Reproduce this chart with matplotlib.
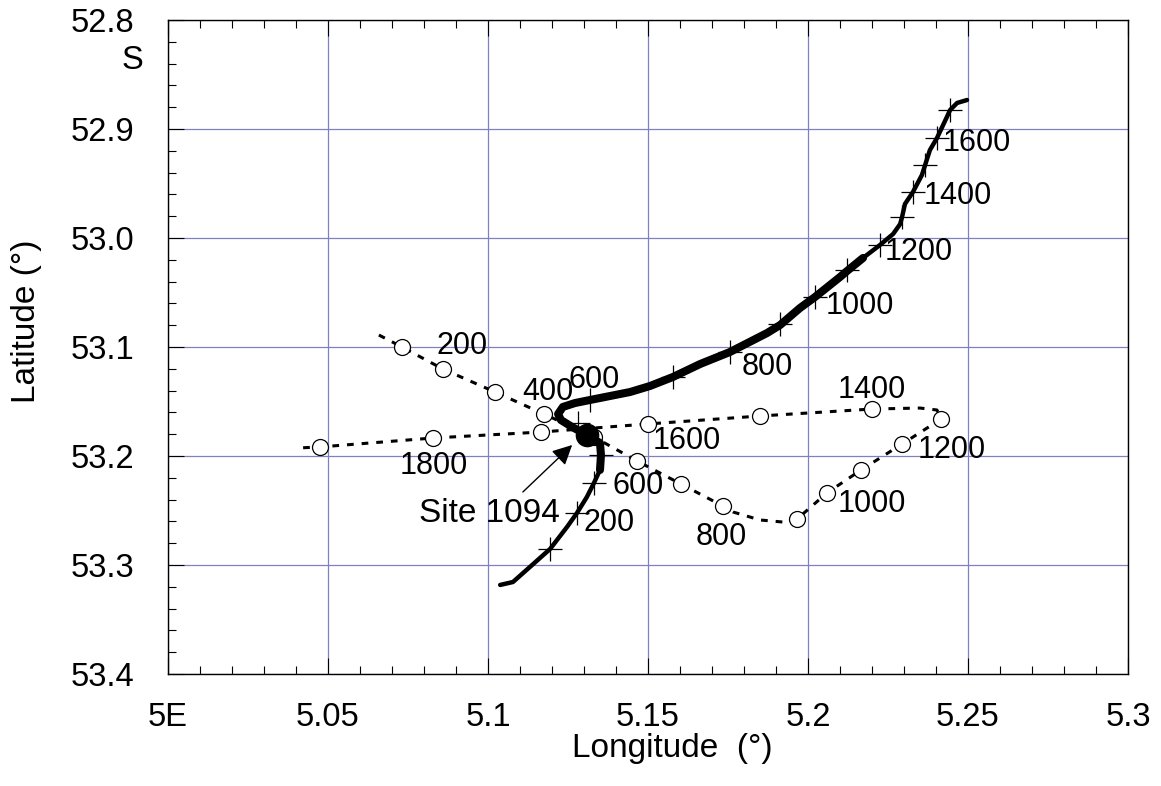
import matplotlib
matplotlib.use('Agg')
import matplotlib.pyplot as plt
from matplotlib.ticker import MultipleLocator, FixedLocator, FixedFormatter

plt.rcParams['font.family'] = ['Liberation Sans', 'DejaVu Sans']

# Ship track (solid line), lon / lat in degrees
ship_lon = [5.1038, 5.1078, 5.1131, 5.1194, 5.1247, 5.1278, 5.1309, 5.1331,
            5.1350, 5.1353, 5.1350, 5.1309, 5.1263, 5.1228, 5.1219, 5.1234,
            5.1272, 5.1319, 5.1444, 5.1506, 5.1578, 5.1663, 5.1756, 5.1872,
            5.1913, 5.1975, 5.2022, 5.2100, 5.2122, 5.2172, 5.2225, 5.2266,
            5.2288, 5.2294, 5.2303, 5.2328, 5.2356, 5.2366, 5.2381, 5.2403,
            5.2434, 5.2444, 5.2466, 5.2497]
ship_lat = [53.3183, 53.3156, 53.3018, 53.2853, 53.2651, 53.2523, 53.2376, 53.2248,
            53.2128, 53.1991, 53.1881, 53.1807, 53.1734, 53.1670, 53.1615, 53.1550,
            53.1514, 53.1486, 53.1413, 53.1358, 53.1275, 53.1156, 53.1046, 53.0872,
            53.0798, 53.0642, 53.0541, 53.0358, 53.0303, 53.0183, 53.0064, 52.9963,
            52.9872, 52.9807, 52.9688, 52.9578, 52.9422, 52.9330, 52.9193, 52.9083,
            52.8890, 52.8826, 52.8761, 52.8734]
# part of the ship track drawn heavier (index range)
ship_heavy = (8, 30)

# Ship time marks (+)
ship_mark_lon = [5.1194, 5.1278, 5.1331, 5.1353, 5.1281, 5.1319, 5.1578, 5.1756,
                 5.1913, 5.2022, 5.2122, 5.2225, 5.2294, 5.2328, 5.2366, 5.2403,
                 5.2444]
ship_mark_lat = [53.2853, 53.2523, 53.2248, 53.1991, 53.1697, 53.1486, 53.1275, 53.1046,
                 53.0789, 53.0541, 53.0294, 53.0064, 52.9807, 52.9578, 52.9330, 52.9083,
                 52.8826]
ship_labels = ['200', '600', '800', '1000', '1200', '1400', '1600']
ship_label_lon = [5.1378, 5.1331, 5.1872, 5.2163, 5.2347, 5.2469, 5.2528]
ship_label_lat = [53.2615, 53.1303, 53.1183, 53.0624, 53.0128, 52.9615, 52.9128]

# Drifter track (dotted line)
drift_lon = [5.0659, 5.0731, 5.0859, 5.1022, 5.1175, 5.1331, 5.1466, 5.1603,
             5.1734, 5.1766, 5.1850, 5.1922, 5.1966, 5.2059, 5.2166, 5.2294,
             5.2416, 5.2403, 5.2350, 5.2200, 5.1850, 5.1500, 5.1166, 5.0828,
             5.0475, 5.0403]
drift_lat = [53.0890, 53.1000, 53.1202, 53.1413, 53.1615, 53.1826, 53.2046, 53.2257,
             53.2459, 53.2514, 53.2587, 53.2606, 53.2578, 53.2339, 53.2128, 53.1890,
             53.1661, 53.1578, 53.1560, 53.1569, 53.1633, 53.1706, 53.1780, 53.1835,
             53.1917, 53.1927]

# Drifter time marks (o)
drift_mark_lon = [5.0731, 5.0859, 5.1022, 5.1175, 5.1331, 5.1466, 5.1603, 5.1734,
                  5.1966, 5.2059, 5.2166, 5.2294, 5.2416, 5.2200, 5.1850, 5.1500,
                  5.1166, 5.0828, 5.0475]
drift_mark_lat = [53.1000, 53.1202, 53.1413, 53.1615, 53.1826, 53.2046, 53.2257, 53.2459,
                  53.2578, 53.2339, 53.2128, 53.1890, 53.1661, 53.1569, 53.1633, 53.1706,
                  53.1780, 53.1835, 53.1917]
drift_labels = ['200', '400', '600', '800', '1000', '1200', '1400', '1600', '1800']
drift_label_lon = [5.0919, 5.1188, 5.1469, 5.1728, 5.2200, 5.2450, 5.2200, 5.1622, 5.0831]
drift_label_lat = [53.0991, 53.1413, 53.2275, 53.2743, 53.2440, 53.1945, 53.1394, 53.1862, 53.2092]

site_lon, site_lat = 5.1309, 53.1807
site_text_pos = (5.1006, 53.2523)
site_arrow_tail = (5.1109, 53.2330)
site_arrow_head = (5.1263, 53.1899)

x_ticks = [5.0, 5.05, 5.1, 5.15, 5.2, 5.25, 5.3]
x_ticklabels = ['5E', '5.05', '5.1', '5.15', '5.2', '5.25', '5.3']
y_ticks = [52.8, 52.9, 53.0, 53.1, 53.2, 53.3, 53.4]
y_ticklabels = ['52.8', '52.9', '53.0', '53.1', '53.2', '53.3', '53.4']

fig = plt.figure(figsize=(11.61, 7.86), dpi=100)
ax = fig.add_axes([168 / 1161, 1 - 674 / 786, 960 / 1161, 654 / 786])

ax.set_xlim(5.0, 5.3)
ax.set_ylim(53.4, 52.8)

ax.xaxis.set_major_locator(FixedLocator(x_ticks))
ax.xaxis.set_major_formatter(FixedFormatter(x_ticklabels))
ax.xaxis.set_minor_locator(MultipleLocator(0.01))
ax.yaxis.set_major_locator(FixedLocator(y_ticks))
ax.yaxis.set_major_formatter(FixedFormatter(y_ticklabels))
ax.yaxis.set_minor_locator(MultipleLocator(0.02))

ax.tick_params(which='both', direction='in', top=True, right=False, width=0.8,
               color='black')
ax.tick_params(which='major', length=11.5, labelsize=23.5)
ax.tick_params(which='minor', length=6)
ax.tick_params(axis='x', which='major', pad=20)
ax.tick_params(axis='y', which='major', pad=24)
ax.grid(True, which='major', color='#8080c0', lw=0.9)
ax.set_axisbelow(True)
for s in ax.spines.values():
    s.set_linewidth(1.0)

# "S" beneath the first latitude label
ax.text(-0.026, 0.938, 'S', transform=ax.transAxes, ha='right', va='center',
        fontsize=23.5)

ax.set_xlabel('Longitude  (\u00b0)', fontsize=24)
ax.set_ylabel('Latitude (\u00b0)', fontsize=24)
ax.xaxis.set_label_coords(0.525, -0.090)
ax.yaxis.label.set_va('center')
ax.yaxis.set_label_coords(-0.147, 0.54)

# drifter
ax.plot(drift_lon, drift_lat, color='black', lw=2.2, dashes=(2.2, 2.6), zorder=3)
ax.plot(drift_mark_lon, drift_mark_lat, 'o', ms=11.5, mfc='white', mec='black',
        mew=0.9, zorder=4)
for t, x, y in zip(drift_labels, drift_label_lon, drift_label_lat):
    ax.text(x, y, t, ha='center', va='center', fontsize=22, zorder=6)

# ship
ax.plot(ship_lon, ship_lat, color='black', lw=3.2, solid_capstyle='round', zorder=5)
i0, i1 = ship_heavy
ax.plot(ship_lon[i0:i1], ship_lat[i0:i1], color='black', lw=5.8,
        solid_capstyle='round', solid_joinstyle='round', zorder=5)
ax.plot(ship_mark_lon, ship_mark_lat, '+', ms=17, mew=0.9, color='black', zorder=5)
for t, x, y in zip(ship_labels, ship_label_lon, ship_label_lat):
    ax.text(x, y, t, ha='center', va='center', fontsize=22, zorder=6)

# site
ax.plot(site_lon, site_lat, 'o', ms=16, color='black', zorder=7)
ax.text(*site_text_pos, 'Site 1094', ha='center', va='center', fontsize=24,
        zorder=6)
ax.annotate('', xy=site_arrow_head, xytext=site_arrow_tail,
            arrowprops=dict(arrowstyle='-|>', color='black', lw=1.0,
                            mutation_scale=30, shrinkA=0, shrinkB=0),
            zorder=6)

fig.savefig('out.png', dpi=100)
